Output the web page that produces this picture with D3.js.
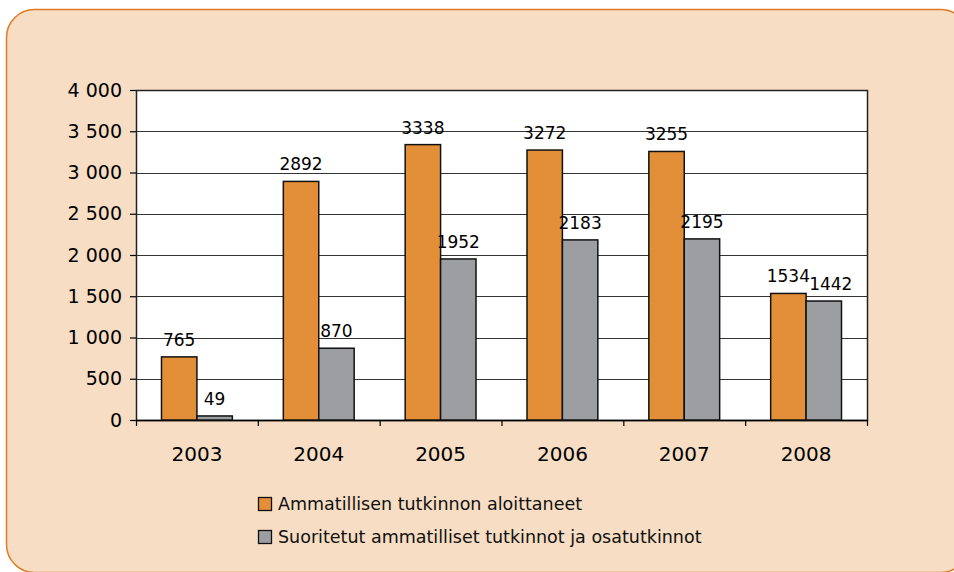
<!DOCTYPE html>
<html>
<head>
<meta charset="utf-8">
<script src="https://cdn.jsdelivr.net/npm/d3@7"></script>
<style>
  body { margin: 0; background: #fff; }
  svg { display: block; font-family: "DejaVu Sans", sans-serif; }
</style>
</head>
<body>
<script>
(function(){
    var years = ["2003", "2004", "2005", "2006", "2007", "2008"];
    var aloittaneet = [765, 2892, 3338, 3272, 3255, 1534];
    var suoritetut = [49, 870, 1952, 2183, 2195, 1442];
    var seriesNames = ["Ammatillisen tutkinnon aloittaneet",
                       "Suoritetut ammatilliset tutkinnot ja osatutkinnot"];
    var yTicks = [0, 500, 1000, 1500, 2000, 2500, 3000, 3500, 4000];
    var colors = ["#e38f38", "#9d9ea2"];
    var font = "DejaVu Sans, sans-serif";

    var svg = d3.select("body").append("svg")
        .attr("width", 954).attr("height", 572);

    // panel, runs off the right and bottom
    svg.append("rect")
        .attr("x", 6.5).attr("y", 9.5).attr("width", 962).attr("height", 563)
        .attr("rx", 28).attr("ry", 28)
        .attr("fill", "#f6ddc3").attr("stroke", "#e07a24").attr("stroke-width", 1.5);

    var left = 136, right = 867, top = 90, bottom = 420;

    var x = d3.scaleBand().domain(years).range([left, right]).paddingInner(0).paddingOuter(0);
    var y = d3.scaleLinear().domain([0, 4000]).range([bottom, top]);

    svg.append("rect")
        .attr("x", left).attr("y", top).attr("width", right - left).attr("height", bottom - top)
        .attr("fill", "#fff");

    svg.append("g").selectAll("line").data(yTicks.filter(function(d){ return d > 0; }))
        .enter().append("line")
        .attr("x1", left).attr("x2", right)
        .attr("y1", function(d){ return Math.round(y(d)) + 0.5; })
        .attr("y2", function(d){ return Math.round(y(d)) + 0.5; })
        .attr("stroke", "#333").attr("stroke-width", 1.2);

    svg.append("rect")
        .attr("x", left + 0.5).attr("y", top + 0.5).attr("width", right - left).attr("height", bottom - top)
        .attr("fill", "none").attr("stroke", "#222").attr("stroke-width", 1.5);

    // y axis
    var yAxis = d3.axisLeft(y).tickValues(yTicks).tickSize(6).tickPadding(8)
        .tickFormat(function(d){ return d3.format(",")(d).replace(",", " "); });
    var gy = svg.append("g").attr("transform", "translate(" + left + ",0)").call(yAxis);
    gy.attr("font-family", font).attr("font-size", 19);
    gy.select(".domain").remove();
    gy.selectAll(".tick line").attr("stroke", "#000").attr("stroke-width", 1.2);
    gy.selectAll(".tick text").attr("fill", "#000").style("white-space", "pre");

    // x axis
    svg.append("line").attr("x1", left).attr("x2", right)
        .attr("y1", bottom + 0.5).attr("y2", bottom + 0.5)
        .attr("stroke", "#000").attr("stroke-width", 1.5);
    var bounds = years.map(function(d){ return x(d); }).concat([right]);
    svg.append("g").selectAll("line").data(bounds).enter().append("line")
        .attr("x1", function(d){ return d + 0.5; }).attr("x2", function(d){ return d + 0.5; })
        .attr("y1", bottom).attr("y2", bottom + 6)
        .attr("stroke", "#000").attr("stroke-width", 1.2);
    svg.append("g").selectAll("text").data(years).enter().append("text")
        .attr("x", function(d){ return x(d) + x.bandwidth() / 2; })
        .attr("y", 461)
        .attr("text-anchor", "middle").attr("font-size", 20).attr("fill", "#000")
        .text(function(d){ return d; });

    // bars
    var inner = d3.scaleBand().domain([0, 1]).range([0, x.bandwidth()])
        .paddingInner(0).paddingOuter(0.72);
    var seriesData = [aloittaneet, suoritetut];

    seriesData.forEach(function(vals, s) {
        var g = svg.append("g");
        g.selectAll("rect").data(vals).enter().append("rect")
            .attr("x", function(d, i){ return x(years[i]) + inner(s); })
            .attr("y", function(d){ return y(d); })
            .attr("width", inner.bandwidth())
            .attr("height", function(d){ return bottom - y(d); })
            .attr("fill", colors[s]).attr("stroke", "#111").attr("stroke-width", 1.5);
        g.selectAll("text").data(vals).enter().append("text")
            .attr("x", function(d, i){ return x(years[i]) + inner(s) + inner.bandwidth() / 2 + (s === 1 && i === 5 ? 7 : 0); })
            .attr("y", function(d){ return y(d) - 11; })
            .attr("text-anchor", "middle").attr("font-size", 17).attr("fill", "#000")
            .text(function(d){ return d; });
    });

    // legend
    var leg = svg.append("g").selectAll("g").data(seriesNames).enter().append("g")
        .attr("transform", function(d, i){ return "translate(258," + (497 + i * 33) + ")"; });
    leg.append("rect").attr("x", 0.5).attr("y", 0.5).attr("width", 13).attr("height", 13)
        .attr("fill", function(d, i){ return colors[i]; })
        .attr("stroke", "#111").attr("stroke-width", 1.3);
    leg.append("text").attr("x", 20).attr("y", 12.5)
        .attr("font-size", 17.5).attr("fill", "#111")
        .text(function(d){ return d; });
})();
</script>
</body>
</html>
